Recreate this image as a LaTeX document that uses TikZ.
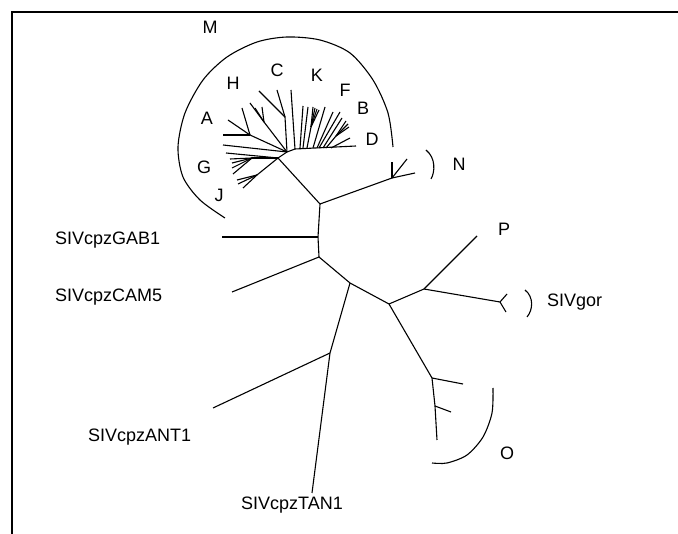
\documentclass[tikz,border=0pt]{standalone}
\usepackage{fontspec}
\setmainfont{Liberation Sans}
\usetikzlibrary{positioning}

\begin{document}
\begin{tikzpicture}[x=1pt,y=-1pt,
  edge/.style={line width=1.1pt},
  taxon/.style={font=\fontsize{18}{21}\selectfont, inner sep=0pt}]
\useasboundingbox (0,0) rectangle (678,534);

% Frame
\draw[line width=1.8pt] (12,534) -- (12,12) -- (678,12);

% Backbone nodes
\coordinate (mroot) at (278,158);
\coordinate (mhub) at (287,152);
\coordinate (mright) at (295,149);
\coordinate (nM) at (320,204);
\coordinate (nGAB) at (318,237);
\coordinate (nCAM) at (319,257);
\coordinate (nTAN) at (350,283);
\coordinate (nGOR) at (389,304);
\coordinate (nP) at (424,289);
\coordinate (nN) at (392,178);
\coordinate (nANT) at (330,353);
\coordinate (nO) at (432,378);
\coordinate (nO2) at (435,406);
\coordinate (gorfork) at (500,302);

% Leaves
\coordinate (tGAB) at (222,237);
\coordinate (tCAM) at (232,292);
\coordinate (tANT) at (213,408);
\coordinate (tTAN) at (312,493);
\coordinate (tP) at (477,236);
\coordinate (tO) at (437,440);

% Backbone
\draw[edge] (mhub) -- (mroot) -- (nM) -- (nGAB) -- (nCAM) -- (nTAN) -- (nGOR) -- (nO) -- (nO2) -- (tO);
\draw[edge] (nM) -- (nN);
\draw[edge] (nGAB) -- (tGAB);
\draw[edge] (nCAM) -- (tCAM);
\draw[edge] (nTAN) -- (nANT) -- (tTAN);
\draw[edge] (nANT) -- (tANT);
\draw[edge] (nGOR) -- (nP) -- (tP);
\draw[edge] (nP) -- (gorfork);
\draw[edge] (mhub) -- (mright);

% Small forks
\foreach \x/\y in {392/162, 407/159, 415/173} \draw[edge] (nN) -- (\x,\y);
\foreach \x/\y in {507/294, 506/312} \draw[edge] (gorfork) -- (\x,\y);
\draw[edge] (nO) -- (463,384);
\draw[edge] (nO2) -- (451,412);

% Group M star, left part
\coordinate (hH) at (264,122);
\coordinate (hC) at (285,117);
\coordinate (hA) at (250,135);
\coordinate (hG) at (252,158);
\coordinate (hJ) at (257,175);
\draw[edge] (mhub) -- (hH); \draw[edge] (mhub) -- (hC); \draw[edge] (mhub) -- (hA);
\draw[edge] (mroot) -- (hG); \draw[edge] (mroot) -- (hJ);
\draw[edge] (mhub) -- (223,145);
\draw[edge] (mroot) -- (226,153);
\foreach \x/\y in {250/103, 255/108, 262/107} \draw[edge] (hH) -- (\x,\y);
\foreach \x/\y in {259/91, 277/90} \draw[edge] (hC) -- (\x,\y);
\foreach \x/\y in {242/108, 228/120, 223/135} \draw[edge] (hA) -- (\x,\y);
\foreach \x/\y in {230/159, 232/163, 232/168, 233/174} \draw[edge] (hG) -- (\x,\y);
\foreach \x/\y in {237/180, 238/184, 243/188} \draw[edge] (hJ) -- (\x,\y);

% Group M star, right part
\coordinate (hK) at (311,127);
\coordinate (hB) at (336,136);
\draw[edge] (mright) -- (356,146);
\draw[edge] (mright) -- (291,90);
\draw[edge] (307,148) -- (hK);
\draw[edge] (326,148) -- (hB);
\foreach \x/\y in {313/107, 315/108, 317/109, 319/110} \draw[edge] (hK) -- (\x,\y);
\foreach \x/\y in {346/121, 348/124, 349/127} \draw[edge] (hB) -- (\x,\y);
\foreach \a/\b/\c/\d in {300/148/303/106, 303/148/308/107, 313/148/325/107,
  317/148/333/112, 319/148/340/112, 323/148/342/118, 331/148/350/138}
  \draw[edge] (\a,\b) -- (\c,\d);

% Clade brackets
\draw[edge] plot[smooth] coordinates {(393,147) (388,113) (373,80) (350,53) (320,40)
  (287,37) (257,42) (227,57) (203,80) (185,113) (178,147) (183,177) (200,200) (225,218)};
\draw[edge] (426,150) .. controls (436,158) and (435,172) .. (431,179);
\draw[edge] (525,290) .. controls (534,297) and (533,310) .. (527,317);
\draw[edge] plot[smooth] coordinates {(493,388) (492,413) (483,437) (467,455) (447,463) (432,463)};

% Labels
\node[taxon] (labM) at (210,27) {M};
\node[taxon] (labH) at (233,83) {H};
\node[taxon] (labC) at (277,70) {C};
\node[taxon] (labK) at (317,75) {K};
\node[taxon] (labF) at (345,90) {F};
\node[taxon] (labB) at (363,108) {B};
\node[taxon] (labD) at (372,139) {D};
\node[taxon] (labA) at (207,118) {A};
\node[taxon] (labG) at (204,167) {G};
\node[taxon] (labJ) at (219,195) {J};
\node[taxon] (labN) at (459,164) {N};
\node[taxon] (labP) at (504,229) {P};
\node[taxon] (labO) at (507,453) {O};
\node[taxon, anchor=west] (labGOR) at (547,302) {SIVgor};
\node[taxon, anchor=west] (labGAB) at (55,240) {SIVcpzGAB1};
\node[taxon, anchor=west] (labCAM) at (55,297) {SIVcpzCAM5};
\node[taxon, anchor=west] (labANT) at (88,437) {SIVcpzANT1};
\node[taxon] (labTAN) at (292,505) {SIVcpzTAN1};
\end{tikzpicture}
\end{document}
